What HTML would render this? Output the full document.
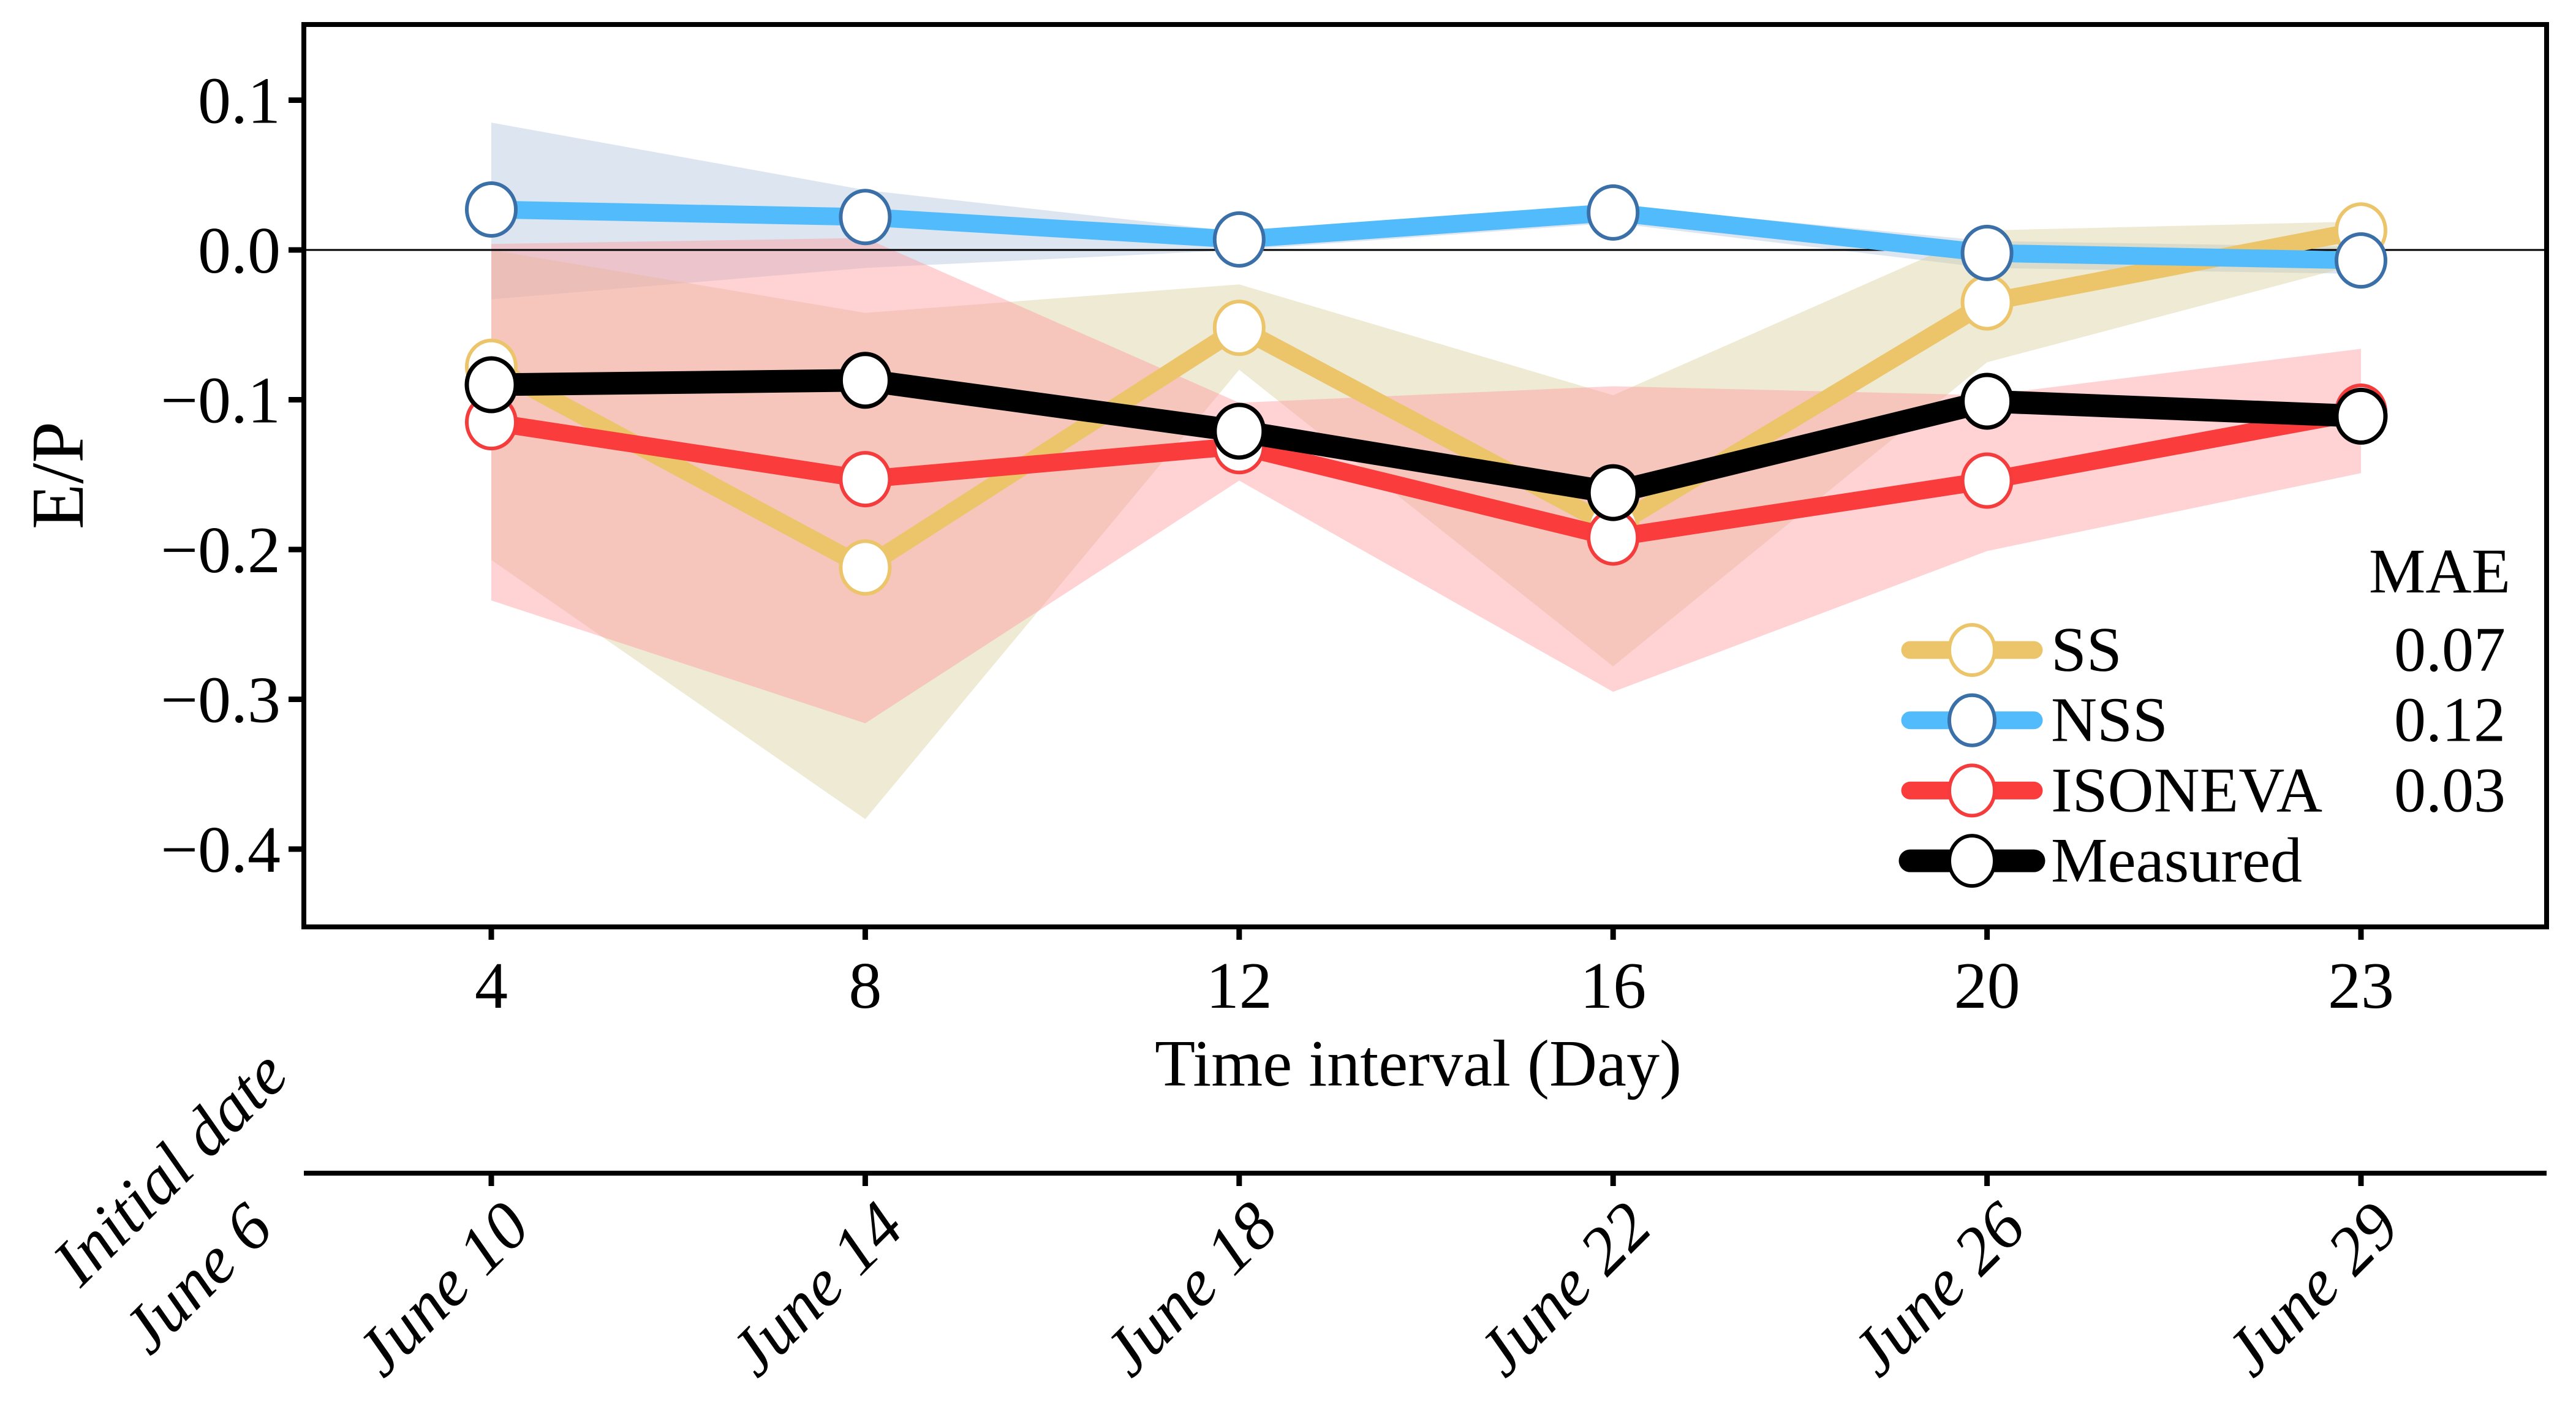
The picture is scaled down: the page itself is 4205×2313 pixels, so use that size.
<!DOCTYPE html>
<html><head><meta charset="utf-8"><style>
html,body{margin:0;padding:0;background:#fff;}
svg{display:block;font-family:"Liberation Serif",serif;}
</style></head><body>
<svg id="chart" width="4205" height="2313" viewBox="0 0 4205 2313" xmlns="http://www.w3.org/2000/svg">
<g id="bands"></g>
<line x1="496" y1="408" x2="4157" y2="408" stroke="#000" stroke-width="3"/>
<g id="lines"></g>
<rect x="496" y="40" width="3661" height="1473" fill="none" stroke="#000" stroke-width="8"/>
<g id="axes"></g>
<text transform="translate(135,776) rotate(-90)" text-anchor="middle" font-size="122">E/P</text>
<text x="2315" y="1772" text-anchor="middle" font-size="108">Time interval (Day)</text>
<line x1="496" y1="1915" x2="4157" y2="1915" stroke="#000" stroke-width="8"/>
<text transform="translate(475,1760) rotate(-45)" text-anchor="end" font-size="110" font-style="italic">Initial date</text>
<text transform="translate(450,2010) rotate(-45)" text-anchor="end" font-size="110" font-style="italic">June 6</text>
<g id="legend">
<text x="4098" y="967" text-anchor="end" font-size="104">MAE</text>
</g>
</svg>
<script>
const categories = ["4","8","12","16","20","23"];
const dateLabels = ["June 10","June 14","June 18","June 22","June 26","June 29"];
const yTicks = [0.1, 0.0, -0.1, -0.2, -0.3, -0.4];
const ssValues = [-0.078,-0.212,-0.052,-0.185,-0.035,0.013];
const nssValues = [0.027,0.022,0.007,0.025,-0.002,-0.007];
const isoValues = [-0.115,-0.153,-0.131,-0.192,-0.154,-0.108];
const measuredValues = [-0.090,-0.087,-0.121,-0.162,-0.101,-0.111];
const ssUpper = [0.0,-0.042,-0.023,-0.097,0.013,0.019];
const ssLower = [-0.207,-0.380,-0.080,-0.278,-0.075,-0.009];
const nssUpper = [0.085,0.040,0.012,0.030,0.006,0.002];
const nssLower = [-0.033,-0.012,0.0,0.018,-0.012,-0.016];
const isoUpper = [0.004,0.008,-0.102,-0.091,-0.097,-0.066];
const isoLower = [-0.234,-0.316,-0.154,-0.295,-0.201,-0.149];
const maeNames = ["SS","NSS","ISONEVA","Measured"];
const maeValues = ["0.07","0.12","0.03",""];

const NS="http://www.w3.org/2000/svg";
function xPos(i){return 802 + i*610.4;}
function yPos(v){return 408 - v*2445;}
function mk(tag,attrs,parent){const e=document.createElementNS(NS,tag);for(const k in attrs)e.setAttribute(k,attrs[k]);parent.appendChild(e);return e;}

const bands=document.getElementById('bands');
function band(up,lo,fill,name){
  let d=up.map((v,i)=>(i?'L':'M')+xPos(i)+','+yPos(v)).join(' ');
  for(let i=lo.length-1;i>=0;i--)d+=' L'+xPos(i)+','+yPos(lo[i]);
  const p=mk('path',{d:d+' Z',fill:fill},bands);
  
  
}
band(nssUpper,nssLower,'rgba(180,200,222,0.45)','nss-band');
band(ssUpper,ssLower,'rgba(215,205,150,0.42)','ss-band');
band(isoUpper,isoLower,'rgba(255,155,160,0.45)','isoneva-band');

const lines=document.getElementById('lines');
function series(vals,color,edge,w,ew,name){
  const g=mk('g',{},lines);
  
  
  const pl=mk('polyline',{points:vals.map((v,i)=>xPos(i)+','+yPos(v)).join(' '),fill:'none',stroke:color,'stroke-width':w,'stroke-linejoin':'round','stroke-linecap':'round'},g);
  
  
  vals.forEach((v,i)=>{
    const c=mk('ellipse',{cx:xPos(i),cy:yPos(v),rx:40,ry:43,fill:'#fff',stroke:edge,'stroke-width':ew},g);
    
    
  });
}
series(ssValues,'#ecc46a','#ecc46a',29,6,'ss');
series(nssValues,'#52bbfb','#3a6fa8',29,6,'nss');
series(isoValues,'#fa3c3c','#f43c3c',29,6,'isoneva');
series(measuredValues,'#000','#000',37,7,'measured');

const axes=document.getElementById('axes');
yTicks.forEach(v=>{
  const t=mk('line',{x1:471,x2:496,y1:yPos(v),y2:yPos(v),stroke:'#000','stroke-width':9},axes);
  
  
  const tx=mk('text',{x:458,y:yPos(v)+37,'text-anchor':'end','font-size':108},axes);
  tx.textContent=(v<0?'\u2212':'')+Math.abs(v).toFixed(1);
  
  
});
categories.forEach((c,i)=>{
  const x=xPos(i);
  const t=mk('line',{x1:x,x2:x,y1:1513,y2:1534,stroke:'#000','stroke-width':9},axes);
  
  
  const tx=mk('text',{x:x,y:1645,'text-anchor':'middle','font-size':108},axes);
  tx.textContent=c;
  
  
  const t2=mk('line',{x1:x,x2:x,y1:1915,y2:1936,stroke:'#000','stroke-width':9},axes);
  
  
  const d=mk('text',{transform:'translate('+(x+68)+',2008) rotate(-45)','text-anchor':'end','font-size':110,'font-style':'italic'},axes);
  d.textContent=dateLabels[i];
  
  
});

const legend=document.getElementById('legend');
const lc=[['#ecc46a','#ecc46a',29],['#52bbfb','#3a6fa8',29],['#fa3c3c','#f43c3c',29],['#000','#000',37]];
maeNames.forEach((n,i)=>{
  const y=1061+i*114.7;
  const l=mk('line',{x1:3118,x2:3320,y1:y,y2:y,stroke:lc[i][0],'stroke-width':lc[i][2],'stroke-linecap':'round'},legend);
  
  
  const c=mk('ellipse',{cx:3219,cy:y,rx:37,ry:41,fill:'#fff',stroke:lc[i][1],'stroke-width':6},legend);
  
  
  const t=mk('text',{x:3348,y:y+34,'font-size':104},legend);
  t.textContent=n;
  
  
  if(maeValues[i]){
    const m=mk('text',{x:4090,y:y+34,'text-anchor':'end','font-size':104},legend);
    m.textContent=maeValues[i];
    
    
  }
});
</script>
</body></html>
